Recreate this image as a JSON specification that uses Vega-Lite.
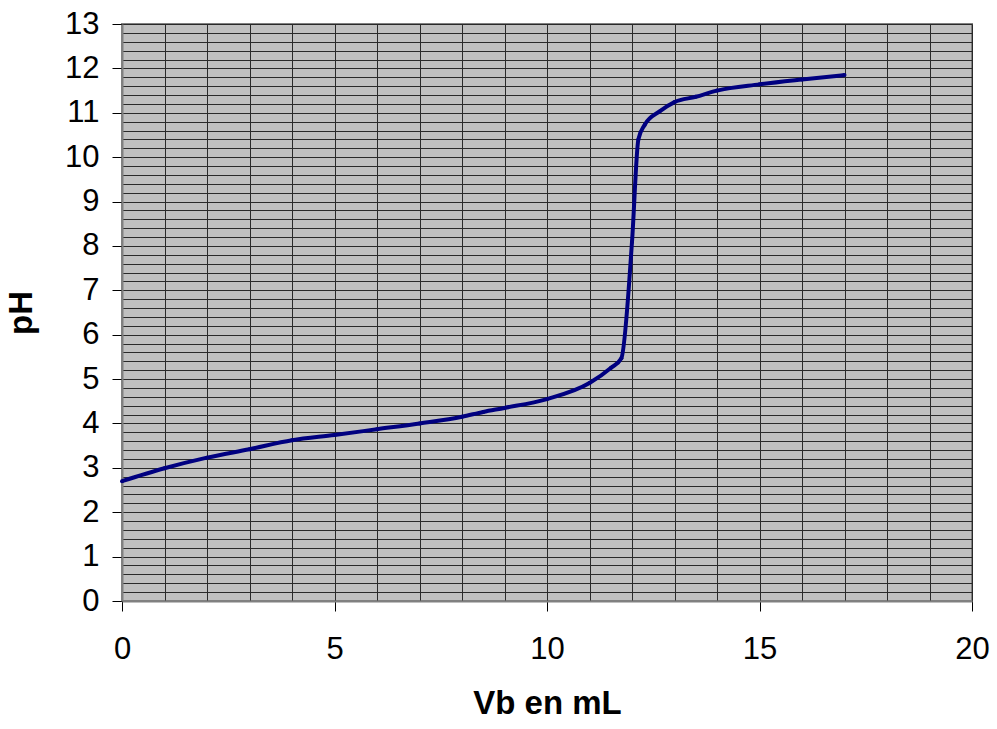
{
  "$schema": "https://vega.github.io/schema/vega-lite/v6.json",
  "width": 850,
  "height": 577,
  "autosize": "none",
  "padding": {"left": 122, "top": 24, "right": 25, "bottom": 128},
  "config": {
    "view": {"fill": "#C0C0C0", "stroke": "#808080", "strokeWidth": 2},
    "font": "Liberation Sans"
  },
  "data": {
    "values": [
      {"vb": 0, "ph": 2.70},
      {"vb": 1, "ph": 2.99},
      {"vb": 2, "ph": 3.23},
      {"vb": 3, "ph": 3.42},
      {"vb": 4, "ph": 3.62},
      {"vb": 5, "ph": 3.74},
      {"vb": 6, "ph": 3.87},
      {"vb": 7, "ph": 4.00},
      {"vb": 8, "ph": 4.15},
      {"vb": 8.5, "ph": 4.26},
      {"vb": 9, "ph": 4.35},
      {"vb": 10, "ph": 4.55},
      {"vb": 11, "ph": 4.91},
      {"vb": 11.5, "ph": 5.25},
      {"vb": 11.75, "ph": 5.47},
      {"vb": 12, "ph": 8.09},
      {"vb": 12.15, "ph": 10.4},
      {"vb": 12.3, "ph": 10.73},
      {"vb": 12.65, "ph": 11.03},
      {"vb": 13, "ph": 11.24},
      {"vb": 13.5, "ph": 11.36},
      {"vb": 14, "ph": 11.5},
      {"vb": 15, "ph": 11.64},
      {"vb": 16, "ph": 11.75},
      {"vb": 17, "ph": 11.85}
    ]
  },
  "layer": [
    {
      "mark": {"type": "line", "interpolate": "monotone", "color": "#000080", "strokeWidth": 4},
      "encoding": {
        "x": {
          "field": "vb", "type": "quantitative",
          "scale": {"domain": [0, 20], "nice": false, "zero": false},
          "axis": {"values": [0,1,2,3,4,5,6,7,8,9,10,11,12,13,14,15,16,17,18,19,20], "grid": true, "gridColor": "#2a2a2a", "gridWidth": 1, "labels": false, "ticks": false, "domain": false, "title": null}
        },
        "y": {
          "field": "ph", "type": "quantitative",
          "scale": {"domain": [0, 13], "nice": false, "zero": false},
          "axis": {"values": [0,0.2,0.4,0.6,0.8,1,1.2,1.4,1.6,1.8,2,2.2,2.4,2.6,2.8,3,3.2,3.4,3.6,3.8,4,4.2,4.4,4.6,4.8,5,5.2,5.4,5.6,5.8,6,6.2,6.4,6.6,6.8,7,7.2,7.4,7.6,7.8,8,8.2,8.4,8.6,8.8,9,9.2,9.4,9.6,9.8,10,10.2,10.4,10.6,10.8,11,11.2,11.4,11.6,11.8,12,12.2,12.4,12.6,12.8,13], "grid": true, "gridColor": "#2a2a2a", "gridWidth": 1, "labels": false, "ticks": false, "domain": false, "title": null}
        }
      }
    },
    {
      "mark": {"type": "point", "filled": true, "color": "#000080", "size": 16, "opacity": 1},
      "encoding": {
        "x": {
          "field": "vb", "type": "quantitative",
          "scale": {"domain": [0, 20], "nice": false, "zero": false},
          "axis": {"orient": "bottom", "values": [0, 5, 10, 15, 20], "grid": false, "tickSize": 10, "tickColor": "#000", "domainColor": "#808080", "domainWidth": 2, "labelFontSize": 31, "labelColor": "#000", "labelPadding": 23, "labelFlush": false, "labelOverlap": false, "title": "Vb en mL", "titleFontSize": 33, "titleFontWeight": "bold", "titleColor": "#000", "titlePadding": 23}
        },
        "y": {
          "field": "ph", "type": "quantitative",
          "scale": {"domain": [0, 13], "nice": false, "zero": false},
          "axis": {"orient": "left", "values": [0,1,2,3,4,5,6,7,8,9,10,11,12,13], "grid": false, "tickSize": 10, "tickColor": "#000", "domainColor": "#808080", "domainWidth": 2, "labelFontSize": 31, "labelColor": "#000", "labelPadding": 13, "labelFlush": false, "labelOverlap": false, "title": "pH", "titleFontSize": 33, "titleFontWeight": "bold", "titleColor": "#000", "titlePadding": 26}
        }
      }
    }
  ],
  "resolve": {"axis": {"x": "independent", "y": "independent"}}
}
